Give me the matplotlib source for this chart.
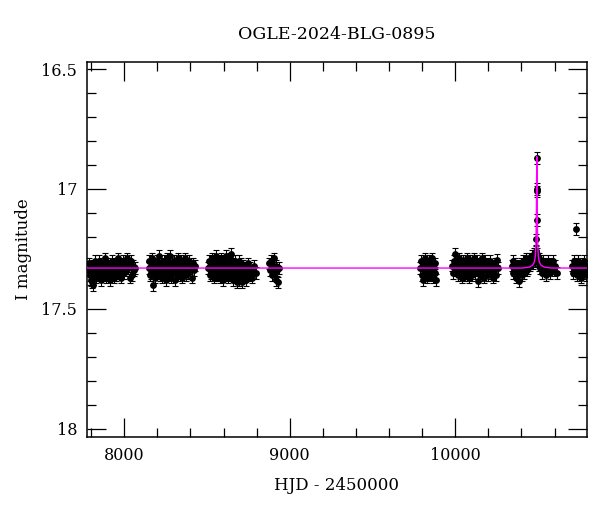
import numpy as np
import matplotlib
matplotlib.use('Agg')
import matplotlib.pyplot as plt
from matplotlib.ticker import MultipleLocator, FuncFormatter

# Light curve, grouped by observing season: (HJD-2450000, I mag)
season1 = [(7782, 17.34), (7788, 17.31), (7793, 17.36), (7797, 17.33), (7801, 17.38),
           (7805, 17.39), (7809, 17.32), (7813, 17.40), (7818, 17.35), (7822, 17.30),
           (7826, 17.34), (7830, 17.37), (7835, 17.32), (7840, 17.36), (7844, 17.33),
           (7849, 17.30), (7853, 17.35), (7858, 17.38), (7862, 17.31), (7867, 17.34),
           (7871, 17.36), (7876, 17.32), (7881, 17.29), (7885, 17.35), (7890, 17.37),
           (7894, 17.33), (7899, 17.31), (7903, 17.36), (7908, 17.34), (7914, 17.38),
           (7918, 17.32), (7923, 17.35), (7928, 17.30), (7932, 17.33), (7937, 17.37),
           (7942, 17.34), (7946, 17.31), (7951, 17.36), (7956, 17.33), (7960, 17.29),
           (7965, 17.35), (7970, 17.32), (7975, 17.34), (7980, 17.37), (7985, 17.31),
           (7990, 17.33), (7995, 17.30), (8000, 17.35), (8006, 17.32), (8011, 17.34),
           (8017, 17.29), (8023, 17.33), (8029, 17.31), (8035, 17.37), (8041, 17.30),
           (8045, 17.36), (8052, 17.32), (8058, 17.34), (8064, 17.33)]

season2 = [(8147, 17.33), (8152, 17.30), (8156, 17.36), (8160, 17.32), (8164, 17.35),
           (8169, 17.29), (8175, 17.40), (8179, 17.34), (8183, 17.31), (8188, 17.37),
           (8192, 17.33), (8197, 17.30), (8201, 17.35), (8206, 17.32), (8210, 17.28),
           (8215, 17.36), (8219, 17.33), (8224, 17.31), (8228, 17.37), (8233, 17.34),
           (8238, 17.30), (8242, 17.35), (8247, 17.32), (8251, 17.38), (8256, 17.33),
           (8260, 17.29), (8265, 17.36), (8270, 17.31), (8274, 17.34), (8279, 17.28),
           (8284, 17.37), (8289, 17.32), (8293, 17.35), (8298, 17.30), (8303, 17.33),
           (8308, 17.38), (8313, 17.31), (8318, 17.34), (8322, 17.29), (8327, 17.36),
           (8332, 17.32), (8337, 17.35), (8342, 17.30), (8347, 17.37), (8352, 17.33),
           (8357, 17.31), (8362, 17.34), (8368, 17.29), (8374, 17.36), (8380, 17.32),
           (8386, 17.35), (8393, 17.30), (8400, 17.33), (8407, 17.37), (8414, 17.31),
           (8420, 17.34), (8426, 17.32)]

season3 = [(8508, 17.33), (8512, 17.30), (8516, 17.36), (8520, 17.32), (8524, 17.35),
           (8528, 17.29), (8532, 17.34), (8536, 17.31), (8540, 17.37), (8544, 17.33),
           (8548, 17.30), (8552, 17.35), (8556, 17.28), (8560, 17.36), (8564, 17.32),
           (8568, 17.34), (8572, 17.30), (8576, 17.37), (8580, 17.33), (8584, 17.29),
           (8588, 17.35), (8592, 17.31), (8596, 17.38), (8600, 17.34), (8604, 17.30),
           (8608, 17.36), (8612, 17.32), (8616, 17.28), (8620, 17.35), (8624, 17.33),
           (8628, 17.37), (8632, 17.31), (8636, 17.34), (8640, 17.29), (8644, 17.36),
           (8648, 17.27), (8652, 17.33), (8656, 17.38), (8660, 17.31), (8664, 17.35),
           (8668, 17.30), (8672, 17.37), (8676, 17.33), (8680, 17.39), (8684, 17.32),
           (8688, 17.36), (8692, 17.30), (8696, 17.38), (8700, 17.34), (8705, 17.31),
           (8710, 17.39), (8715, 17.35), (8720, 17.32), (8725, 17.37), (8730, 17.33),
           (8736, 17.38), (8742, 17.34), (8748, 17.31), (8755, 17.36), (8762, 17.33),
           (8770, 17.37), (8778, 17.34), (8786, 17.32), (8795, 17.35)]

season4 = [(8872, 17.31), (8878, 17.34), (8884, 17.30), (8890, 17.36), (8896, 17.33),
           (8902, 17.29), (8908, 17.35), (8914, 17.38), (8920, 17.32), (8926, 17.34),
           (8932, 17.39), (8938, 17.33)]

season5 = [(9789, 17.33), (9794, 17.30), (9798, 17.36), (9803, 17.32), (9807, 17.38),
           (9812, 17.34), (9816, 17.29), (9821, 17.35), (9826, 17.31), (9830, 17.37),
           (9835, 17.33), (9840, 17.30), (9845, 17.36), (9850, 17.32), (9855, 17.34),
           (9860, 17.29), (9865, 17.37), (9870, 17.33), (9875, 17.35), (9880, 17.31),
           (9886, 17.38)]

season6 = [(9980, 17.32), (9986, 17.35), (9992, 17.30), (9998, 17.27), (10004, 17.34),
           (10009, 17.31), (10014, 17.36), (10019, 17.33), (10024, 17.29), (10029, 17.35),
           (10034, 17.32), (10039, 17.37), (10044, 17.30), (10049, 17.34), (10054, 17.31),
           (10059, 17.36), (10064, 17.33), (10069, 17.29), (10074, 17.35), (10079, 17.32),
           (10084, 17.37), (10089, 17.30), (10094, 17.34), (10099, 17.31), (10104, 17.36),
           (10109, 17.33), (10114, 17.29), (10119, 17.35), (10124, 17.32), (10129, 17.30),
           (10134, 17.34), (10139, 17.385), (10144, 17.31), (10149, 17.36), (10154, 17.33),
           (10159, 17.29), (10164, 17.35), (10169, 17.32), (10174, 17.37), (10180, 17.30),
           (10186, 17.34), (10192, 17.31), (10198, 17.36), (10204, 17.33), (10210, 17.30),
           (10216, 17.35), (10222, 17.32), (10228, 17.37), (10234, 17.34), (10240, 17.31),
           (10246, 17.36), (10250, 17.295), (10256, 17.33)]

season7 = [(10342, 17.32), (10347, 17.35), (10352, 17.30), (10357, 17.34), (10362, 17.31),
           (10367, 17.37), (10372, 17.33), (10377, 17.36), (10382, 17.32), (10387, 17.385),
           (10392, 17.34), (10397, 17.31), (10402, 17.36), (10407, 17.33), (10412, 17.30),
           (10417, 17.35), (10422, 17.32), (10427, 17.29), (10432, 17.34), (10437, 17.31),
           (10442, 17.33), (10447, 17.29), (10452, 17.32), (10457, 17.30), (10462, 17.28),
           (10467, 17.31), (10472, 17.29), (10476, 17.27), (10480, 17.30), (10484, 17.28),
           (10487, 17.26), (10489, 17.28), (10490, 17.27), (10491, 17.21), (10492, 17.13),
           (10493, 17.01), (10493.5, 17.00), (10494, 16.87),
           (10497, 17.27), (10500, 17.30), (10504, 17.32), (10508, 17.29), (10513, 17.33),
           (10518, 17.31), (10523, 17.35), (10528, 17.32), (10533, 17.30), (10538, 17.34),
           (10543, 17.31), (10548, 17.36), (10553, 17.33), (10558, 17.30), (10563, 17.34),
           (10568, 17.32), (10574, 17.35), (10580, 17.31), (10586, 17.33), (10592, 17.30),
           (10598, 17.34), (10605, 17.32), (10616, 17.35)]

season8 = [(10705, 17.32), (10710, 17.35), (10715, 17.30), (10720, 17.34), (10725, 17.31),
           (10729, 17.167), (10734, 17.36), (10739, 17.33), (10744, 17.30), (10749, 17.35),
           (10754, 17.32), (10759, 17.37), (10764, 17.33), (10769, 17.31), (10774, 17.35),
           (10779, 17.30), (10784, 17.34), (10789, 17.36), (10793, 17.32)]

mag_err = 0.024

# magenta model curve
model_t = [7775, 10403, 10448, 10468, 10478, 10484, 10488, 10490, 10491, 10492,
           10493, 10494, 10495, 10496, 10498, 10502, 10508, 10518, 10538, 10583, 10795]
model_m = [17.33, 17.33, 17.326, 17.318, 17.305, 17.28, 17.22, 17.13, 17.04, 16.93,
           16.865, 16.93, 17.04, 17.13, 17.22, 17.28, 17.305, 17.318, 17.326, 17.33, 17.33]

title = 'OGLE-2024-BLG-0895'

seasons = [season1, season2, season3, season4, season5, season6, season7, season8]
data = np.array([p for s in seasons for p in s])
hjd, mag = data[:, 0], data[:, 1]

plt.rcParams['font.family'] = 'DejaVu Serif'

fig = plt.figure(figsize=(6, 5.12), dpi=100)
ax = fig.add_axes([0.145, 0.1465, 0.833, 0.7325])

ax.errorbar(hjd, mag, yerr=mag_err, fmt='o', color='black', ms=3.9,
            elinewidth=0.8, capsize=2.4, capthick=0.8, zorder=2)
ax.plot(model_t, model_m, color='#ff00ff', lw=1.0, zorder=3)

ax.set_xlim(7775, 10795)
ax.set_ylim(18.035, 16.47)

ax.xaxis.set_major_locator(MultipleLocator(1000))
ax.xaxis.set_minor_locator(MultipleLocator(200))
ax.yaxis.set_major_locator(MultipleLocator(0.5))
ax.yaxis.set_minor_locator(MultipleLocator(0.1))
ax.yaxis.set_major_formatter(FuncFormatter(lambda v, p: f'{v:g}'))

ax.tick_params(which='both', direction='in', top=True, right=True, labelsize=11.5)
ax.tick_params(which='major', length=13.5, width=0.9)
ax.tick_params(which='minor', length=6.5, width=0.9)
ax.tick_params(axis='x', pad=7)
ax.tick_params(axis='y', pad=7)
for sp in ax.spines.values():
    sp.set_linewidth(1.1)

ax.set_xlabel('HJD - 2450000', fontsize=12)
ax.set_ylabel('I magnitude', fontsize=12)
ax.xaxis.set_label_coords(0.5, -0.107)
ax.yaxis.set_label_coords(-0.11, 0.5)

fig.text(0.5615, 1 - 34.3 / 512, title, ha='center', va='center', fontsize=12.5)

fig.savefig('out.png', dpi=100)
